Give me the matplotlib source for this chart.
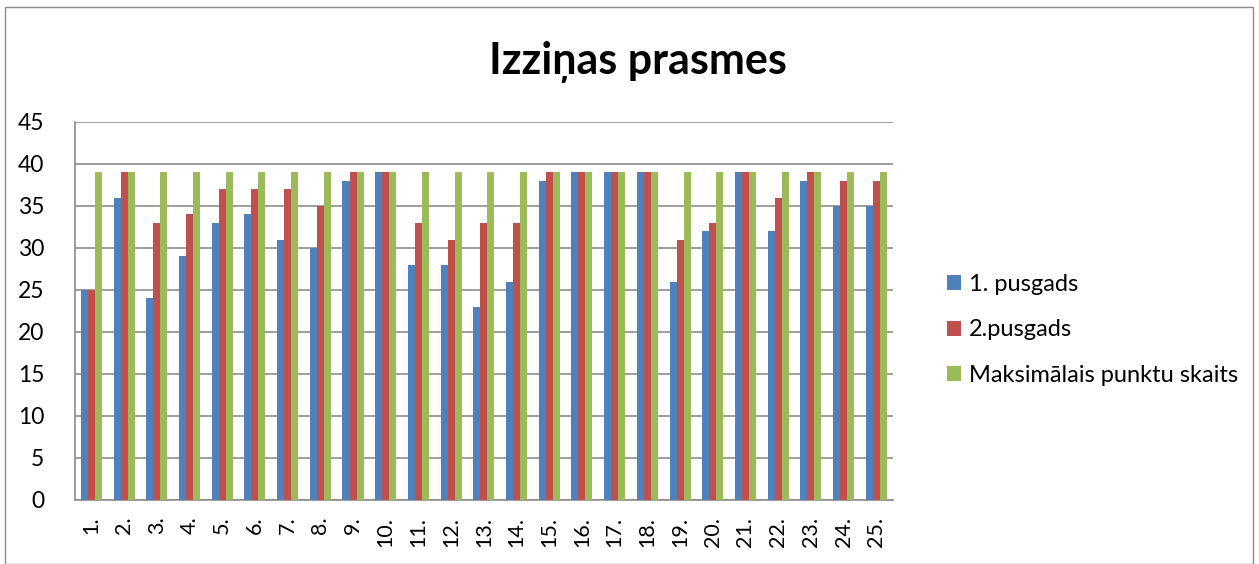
import numpy as np
import matplotlib
matplotlib.use('Agg')
import matplotlib.pyplot as plt

plt.rcParams['font.family'] = ['Lato', 'DejaVu Sans']

categories = ['%d.' % i for i in range(1, 26)]
first_half = [25, 36, 24, 29, 33, 34, 31, 30, 38, 39, 28, 28, 23, 26, 38,
              39, 39, 39, 26, 32, 39, 32, 38, 35, 35]
second_half = [25, 39, 33, 34, 37, 37, 37, 35, 39, 39, 33, 31, 33, 33, 39,
               39, 39, 39, 31, 33, 39, 36, 39, 38, 38]
max_points = [39] * 25
series_names = ['1. pusgads', '2.pusgads', 'Maksimālais punktu skaits']
colors = ['#4F81BD', '#C0504D', '#9BBB59']

fig = plt.figure(figsize=(12.59, 5.64), dpi=100)
ax = fig.add_axes([0.0596, 0.1135, 0.6494, 0.6702])

x = np.arange(len(categories))
w = 0.215
for k, (vals, name, c) in enumerate(zip([first_half, second_half, max_points], series_names, colors)):
    ax.bar(x + (k - 1) * w, vals, width=w, color=c, label=name, zorder=3)

ax.set_xlim(-0.5, len(categories) - 0.5)
ax.set_ylim(0, 45)
ax.set_yticks(range(0, 46, 5))
ax.yaxis.grid(True, color='#8c8c8c', linewidth=1.2, zorder=0)
ax.set_xticks(x)
ax.set_xticklabels(categories, rotation=90, fontsize=15.5)
ax.tick_params(axis='y', labelsize=16.5, length=0, pad=22)
ax.tick_params(axis='x', length=0, pad=12)
for s in ['top', 'right']:
    ax.spines[s].set_visible(False)
for s in ['left', 'bottom']:
    ax.spines[s].set_color('#8c8c8c')
    ax.spines[s].set_linewidth(1.2)

fig.text(0.507, 0.89, 'Izziņas prasmes', ha='center', va='center',
         fontsize=31, fontweight='bold')

leg = fig.legend(loc='center left', bbox_to_anchor=(0.735, 0.415), frameon=False,
                 fontsize=17, handlelength=0.6, handleheight=0.6,
                 labelspacing=1.05, handletextpad=0.35)

border = plt.Rectangle((0.004, 0.0), 0.991, 0.987, transform=fig.transFigure,
                       fill=False, edgecolor='#8c8c8c', lw=1)
fig.patches.append(border)

fig.savefig('out.png', dpi=100)
